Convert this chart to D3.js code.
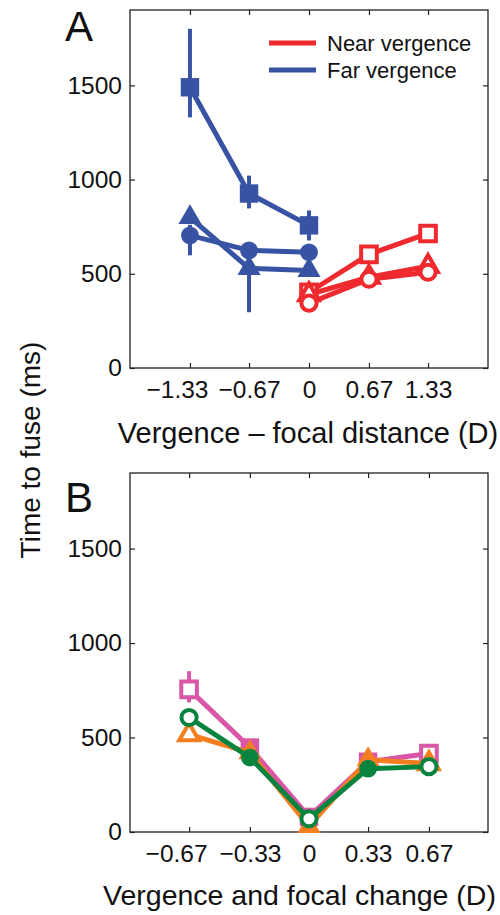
<!DOCTYPE html>
<html>
<head>
<meta charset="utf-8">
<script src="https://d3js.org/d3.v7.min.js"></script>
<style>
  body { margin: 0; background: #fff; }
  text { font-family: "Liberation Sans", Arial, Helvetica, sans-serif; fill: #111; }
</style>
</head>
<body>
<div id="chart"></div>
<script>
// data - panel A (vergence - focal distance)
var farX = [-1.33, -0.67, 0];
var farSquare = [1490, 926, 757];
var farSquareLo = [1330, 847, 677];
var farSquareHi = [1800, 1021, 836];
var farCircle = [704, 624, 614];
var farCircleLo = [598, 585, 590];
var farCircleHi = [760, 660, 640];
var farTriangle = [799, 529, 518];
var farTriangleLo = [770, 296, 500];
var farTriangleHi = [820, 600, 540];

var nearX = [0, 0.67, 1.33];
var nearSquare = [402, 603, 714];
var nearCircle = [344, 471, 508];
var nearTriangle = [390, 482, 540];

var ticksA = [-1.33, -0.67, 0, 0.67, 1.33];
var tickLabelsA = ["\u22121.33", "\u22120.67", "0", "0.67", "1.33"];

// data - panel B (vergence and focal change)
var xB = [-0.67, -0.33, 0, 0.33, 0.67];
var pinkVals = [755, 447, 80, 372, 415];
var pinkLo = [686, 420, 60, 350, 395];
var pinkHi = [851, 475, 100, 395, 435];
var pinkFilled = [false, true, true, true, false];
var orangeVals = [516, 420, 30, 383, 362];
var orangeFilled = [false, true, true, true, false];
var greenVals = [606, 394, 70, 335, 346];
var greenFilled = [false, true, false, true, false];

var ticksB = [-0.67, -0.33, 0, 0.33, 0.67];
var tickLabelsB = ["\u22120.67", "\u22120.33", "0", "0.33", "0.67"];

var yTicks = [0, 500, 1000, 1500];

var blue = "#3953a4", red = "#ee2a2e";
var pink = "#d957a6", orange = "#f47f20", green = "#08843f";

// chart set ups
var svgWidth = 500, svgHeight = 915;
var left = 130, right = 488;
var panelA = {top: 10, bottom: 368};
var panelB = {top: 473, bottom: 832};
var tickFont = '24.5px';

var svg = d3.select('#chart')
  .append('svg')
  .attr('width', svgWidth)
  .attr('height', svgHeight);

function drawFrame(p, xScale, ticks, labels) {
  var g = svg.append('g');
  var yScale = p.y;
  // bottom axis with labels (first label nudged left like the original)
  var bottom = g.append('g')
    .attr('transform', `translate(0,${p.bottom})`)
    .call(d3.axisBottom(xScale).tickValues(ticks).tickSizeInner(-5).tickSizeOuter(0)
      .tickFormat((d, i) => labels[i]));
  bottom.selectAll('text').attr('y', 13).attr('font-size', tickFont)
    .attr('font-family', '"Liberation Sans", Arial, sans-serif')
    .attr('dx', (d, i) => i === 0 ? -13 : 0);
  g.append('g')
    .attr('transform', `translate(0,${p.top})`)
    .call(d3.axisTop(xScale).tickValues(ticks).tickSizeInner(-5).tickSizeOuter(0).tickFormat(''));
  var yl = g.append('g')
    .attr('transform', `translate(${left},0)`)
    .call(d3.axisLeft(yScale).tickValues(yTicks).tickSizeInner(-5).tickSizeOuter(0)
      .tickFormat(d3.format('d')));
  yl.selectAll('text').attr('x', -8).attr('font-size', tickFont)
    .attr('font-family', '"Liberation Sans", Arial, sans-serif');
  g.append('g')
    .attr('transform', `translate(${right},0)`)
    .call(d3.axisRight(yScale).tickValues(yTicks).tickSizeInner(-5).tickSizeOuter(0).tickFormat(''));
  g.selectAll('.domain').remove();
  g.selectAll('.tick line').attr('stroke', '#222').attr('stroke-width', 1.2);
  g.append('rect')
    .attr('x', left).attr('y', p.top)
    .attr('width', right - left).attr('height', p.bottom - p.top)
    .attr('fill', 'none').attr('stroke', '#222').attr('stroke-width', 1.3);
}

var symbolTypes = {square: d3.symbolSquare, circle: d3.symbolCircle, triangle: d3.symbolTriangle};
var symbolSizes = {square: 340, circle: 250, triangle: 230};

function drawSeries(g, xScale, yScale, xs, vals, color, shape, filled, lo, hi) {
  var pts = xs.map((x, i) => ({x: x, y: vals[i], f: filled[i], lo: lo ? lo[i] : null, hi: hi ? hi[i] : null}));
  if (lo) {
    g.selectAll(null).data(pts).enter().append('line')
      .attr('x1', d => xScale(d.x)).attr('x2', d => xScale(d.x))
      .attr('y1', d => yScale(d.lo)).attr('y2', d => yScale(d.hi))
      .attr('stroke', color).attr('stroke-width', 4);
  }
  var line = d3.line().x(d => xScale(d.x)).y(d => yScale(d.y));
  g.append('path').datum(pts)
    .attr('d', line)
    .attr('fill', 'none')
    .attr('stroke', color)
    .attr('stroke-width', 5)
    .attr('stroke-linejoin', 'round');
  var sym = d3.symbol().type(symbolTypes[shape]).size(symbolSizes[shape]);
  var symOpen = d3.symbol().type(symbolTypes[shape]).size(symbolSizes[shape] * 0.72);
  g.selectAll(null).data(pts).enter().append('path')
    .attr('transform', d => `translate(${xScale(d.x)},${yScale(d.y)})`)
    .attr('d', d => d.f ? sym() : symOpen())
    .attr('fill', d => d.f ? color : '#fff')
    .attr('stroke', color)
    .attr('stroke-width', d => d.f ? 0 : 4);
}

// panel A
var xA = d3.scaleLinear().domain([-2, 2]).range([left, right]);
var yA = d3.scaleLinear().domain([0, 1900]).range([panelA.bottom, panelA.top]);
panelA.y = yA;
drawFrame(panelA, xA, ticksA, tickLabelsA);

var gA = svg.append('g');
var allOn = [true, true, true], allOff = [false, false, false];
drawSeries(gA, xA, yA, farX, farSquare, blue, 'square', allOn, farSquareLo, farSquareHi);
drawSeries(gA, xA, yA, farX, farTriangle, blue, 'triangle', allOn, farTriangleLo, farTriangleHi);
drawSeries(gA, xA, yA, farX, farCircle, blue, 'circle', allOn, farCircleLo, farCircleHi);
drawSeries(gA, xA, yA, nearX, nearSquare, red, 'square', allOff);
drawSeries(gA, xA, yA, nearX, nearTriangle, red, 'triangle', allOff);
drawSeries(gA, xA, yA, nearX, nearCircle, red, 'circle', allOff);

// legend
var legend = svg.append('g');
[["Near vergence", red], ["Far vergence", blue]].forEach((d, i) => {
  legend.append('line')
    .attr('x1', 269).attr('x2', 316)
    .attr('y1', 43 + i * 27).attr('y2', 43 + i * 27)
    .attr('stroke', d[1]).attr('stroke-width', 5);
  legend.append('text')
    .attr('x', 327).attr('y', 43 + i * 27)
    .attr('dy', '0.35em')
    .attr('font-size', '22px')
    .text(d[0]);
});

// panel B
var xBs = d3.scaleLinear().domain([-1, 1]).range([left, right]);
var yB = d3.scaleLinear().domain([0, 1900]).range([panelB.bottom, panelB.top]);
panelB.y = yB;
drawFrame(panelB, xBs, ticksB, tickLabelsB);

var gB = svg.append('g');
drawSeries(gB, xBs, yB, xB, pinkVals, pink, 'square', pinkFilled, pinkLo, pinkHi);
drawSeries(gB, xBs, yB, xB, orangeVals, orange, 'triangle', orangeFilled);
drawSeries(gB, xBs, yB, xB, greenVals, green, 'circle', greenFilled);

// labels
svg.append('text').attr('x', 308).attr('y', 443)
  .attr('text-anchor', 'middle').attr('font-size', '29px')
  .text("Vergence \u2013 focal distance (D)");
svg.append('text').attr('x', 103).attr('y', 905)
  .attr('font-size', '28.5px')
  .text("Vergence and focal change (D)");
svg.append('text')
  .attr('transform', 'translate(40,450) rotate(-90)')
  .attr('text-anchor', 'middle').attr('font-size', '28px')
  .text("Time to fuse (ms)");
svg.append('text').attr('x', 65).attr('y', 41).attr('font-size', '42px').text("A");
svg.append('text').attr('x', 65).attr('y', 512).attr('font-size', '42px').text("B");
</script>
</body>
</html>
